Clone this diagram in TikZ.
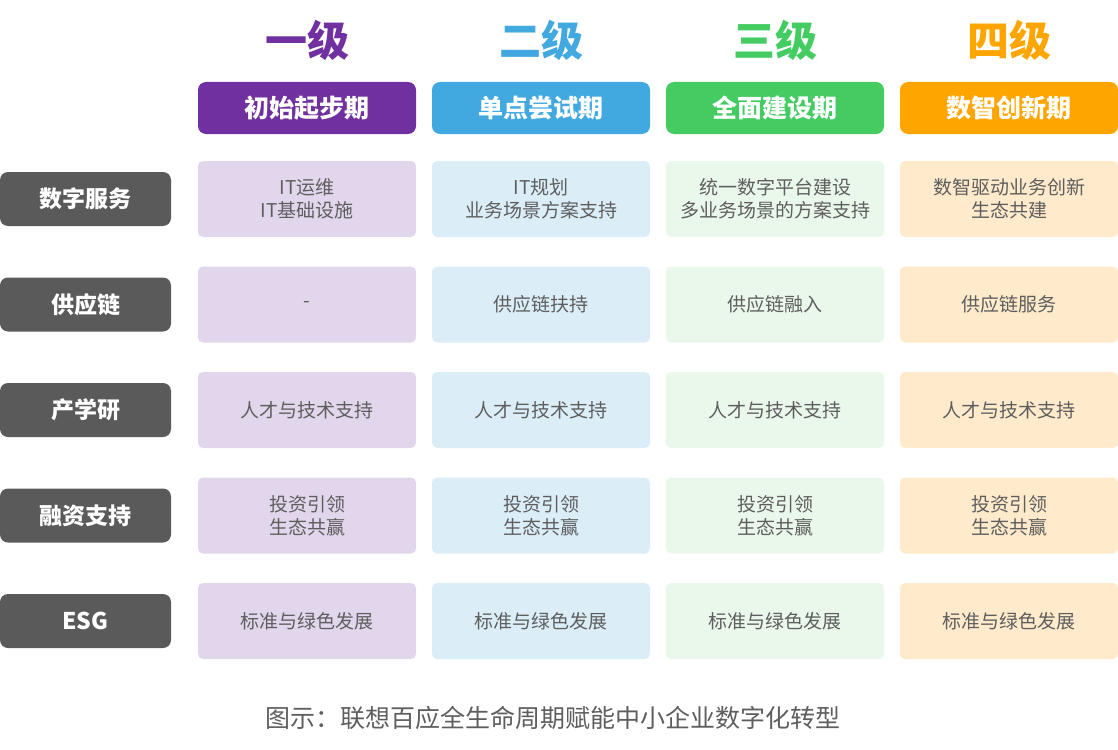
\documentclass[tikz,border=0pt]{standalone}
\usepackage{fontspec}
\setmainfont{Noto Sans CJK SC}
\newfontfamily\cjk{Noto Sans CJK SC}
\definecolor{cpurple}{HTML}{7030A0}
\definecolor{cblue}{HTML}{42A9E0}
\definecolor{cgreen}{HTML}{44CC63}
\definecolor{corange}{HTML}{FFA500}
\definecolor{lpurple}{HTML}{E2D6EC}
\definecolor{lblue}{HTML}{DBEEF8}
\definecolor{lgreen}{HTML}{EAF8EC}
\definecolor{lorange}{HTML}{FFEBCC}
\definecolor{dgray}{HTML}{5A5A5A}
\definecolor{tgray}{HTML}{5E5E5E}
\tikzset{
  leveltitle/.style={font=\cjk\bfseries\fontsize{42}{46}\selectfont, inner sep=0pt},
  phasebox/.style={rounded corners=8pt, minimum width=218pt, minimum height=52pt, inner sep=0pt, text=white, font=\cjk\bfseries\fontsize{25}{28}\selectfont},
  cellbox/.style={rounded corners=5pt, minimum width=218pt, minimum height=76pt, inner sep=0pt, text=tgray, align=center, font=\cjk\fontsize{19}{23}\selectfont},
  rowlabel/.style={fill=dgray, rounded corners=8pt, minimum width=171pt, minimum height=54pt, inner sep=0pt, text=white, font=\cjk\bfseries\fontsize{23}{26}\selectfont},
  captiontext/.style={text=tgray, font=\cjk\fontsize{25}{28}\selectfont, inner sep=0pt}
}
\begin{document}
\begin{tikzpicture}[x=1pt,y=-1pt]
\useasboundingbox (0,0) rectangle (1118,749);
% level titles
\node[leveltitle, text=cpurple] (t1) at (307,40) {一级};
\node[leveltitle, text=cblue] (t2) at (541,40) {二级};
\node[leveltitle, text=cgreen] (t3) at (775,40) {三级};
\node[leveltitle, text=corange] (t4) at (1009,40) {四级};
% phase boxes
\node[phasebox, fill=cpurple] (p1) at (307,108) {初始起步期};
\node[phasebox, fill=cblue] (p2) at (541,108) {单点尝试期};
\node[phasebox, fill=cgreen] (p3) at (775,108) {全面建设期};
\node[phasebox, fill=corange] (p4) at (1009,108) {数智创新期};
% row labels
\node[rowlabel] (r1) at (85.5,199) {数字服务};
\node[rowlabel] (r2) at (85.5,304.5) {供应链};
\node[rowlabel] (r3) at (85.5,410) {产学研};
\node[rowlabel] (r4) at (85.5,515.5) {融资支持};
\node[rowlabel] (r5) at (85.5,621) {ESG};
% row 1
\node[cellbox, fill=lpurple] (c11) at (307,199) {IT运维\\IT基础设施};
\node[cellbox, fill=lblue] (c12) at (541,199) {IT规划\\业务场景方案支持};
\node[cellbox, fill=lgreen] (c13) at (775,199) {统一数字平台建设\\多业务场景的方案支持};
\node[cellbox, fill=lorange] (c14) at (1009,199) {数智驱动业务创新\\生态共建};
% row 2
\node[cellbox, fill=lpurple] (c21) at (307,304.5) {-};
\node[cellbox, fill=lblue] (c22) at (541,304.5) {供应链扶持};
\node[cellbox, fill=lgreen] (c23) at (775,304.5) {供应链融入};
\node[cellbox, fill=lorange] (c24) at (1009,304.5) {供应链服务};
% row 3
\node[cellbox, fill=lpurple] (c31) at (307,410) {人才与技术支持};
\node[cellbox, fill=lblue] (c32) at (541,410) {人才与技术支持};
\node[cellbox, fill=lgreen] (c33) at (775,410) {人才与技术支持};
\node[cellbox, fill=lorange] (c34) at (1009,410) {人才与技术支持};
% row 4
\node[cellbox, fill=lpurple] (c41) at (307,515.5) {投资引领\\生态共赢};
\node[cellbox, fill=lblue] (c42) at (541,515.5) {投资引领\\生态共赢};
\node[cellbox, fill=lgreen] (c43) at (775,515.5) {投资引领\\生态共赢};
\node[cellbox, fill=lorange] (c44) at (1009,515.5) {投资引领\\生态共赢};
% row 5
\node[cellbox, fill=lpurple] (c51) at (307,621) {标准与绿色发展};
\node[cellbox, fill=lblue] (c52) at (541,621) {标准与绿色发展};
\node[cellbox, fill=lgreen] (c53) at (775,621) {标准与绿色发展};
\node[cellbox, fill=lorange] (c54) at (1009,621) {标准与绿色发展};
% caption
\node[captiontext] (cap) at (553,718) {图示：联想百应全生命周期赋能中小企业数字化转型};
\end{tikzpicture}
\end{document}
